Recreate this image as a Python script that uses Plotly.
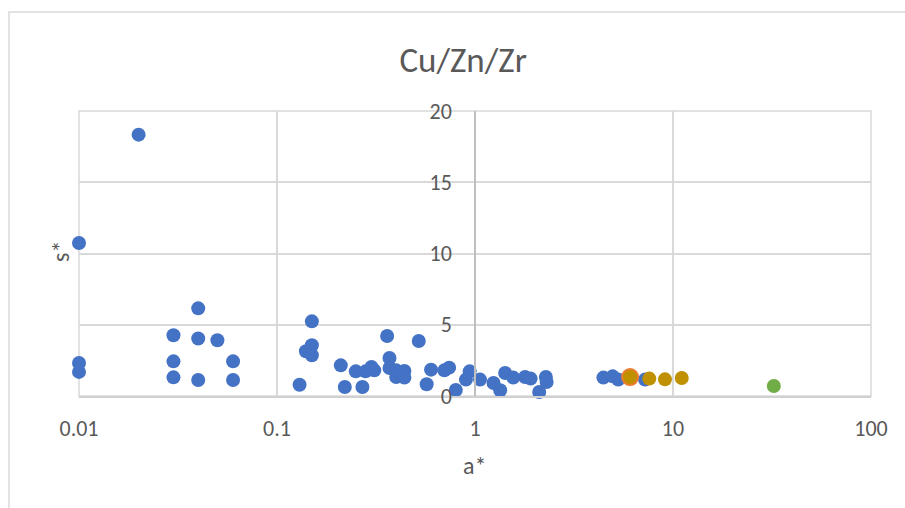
import plotly.graph_objects as go

# Cu/Zn/Zr data: a* (log scale) vs s*
blue_a = [0.02, 0.01, 0.01, 0.01, 0.04, 0.03, 0.04, 0.05, 0.03, 0.03, 0.04, 0.06, 0.06,
          0.13, 0.15, 0.14, 0.15, 0.15, 0.21, 0.22, 0.25, 0.27, 0.28, 0.30, 0.31,
          0.36, 0.37, 0.37, 0.40, 0.40, 0.44, 0.44, 0.52, 0.57, 0.60, 0.70, 0.74,
          0.80, 0.90, 0.94, 1.06, 1.24, 1.34, 1.42, 1.56, 1.79, 1.91, 2.11, 2.28,
          2.30, 4.45, 4.96, 5.29, 7.22]
blue_s = [18.34, 10.74, 2.32, 1.69, 6.15, 4.26, 4.03, 3.91, 2.43, 1.31, 1.12, 2.43, 1.12,
          0.79, 5.24, 3.14, 3.56, 2.86, 2.15, 0.63, 1.73, 0.63, 1.73, 2.04, 1.80,
          4.21, 2.67, 1.97, 1.33, 1.80, 1.75, 1.29, 3.86, 0.82, 1.85, 1.80, 1.99,
          0.42, 1.15, 1.73, 1.15, 0.91, 0.40, 1.61, 1.29, 1.33, 1.22, 0.28, 1.33,
          0.98, 1.29, 1.38, 1.15, 1.15]

orange_a = [6.07]
orange_s = [1.33]

gold_a = [6.07, 7.59, 9.11, 11.07]
gold_s = [1.33, 1.22, 1.17, 1.26]

green_a = [32.3]
green_s = [0.70]

x_ticks = [0.01, 0.1, 1, 10, 100]
x_tick_labels = ["0.01", "0.1", "1", "10", "100"]
y_ticks = [0, 5, 10, 15, 20]

FONT = "Carlito, Calibri, Lato, sans-serif"
TXT = "#595959"
GRID = "#D9D9D9"

fig = go.Figure()
fig.add_trace(go.Scatter(x=blue_a, y=blue_s, mode="markers", cliponaxis=False,
                         marker=dict(size=14, color="#4472C4"), showlegend=False))
fig.add_trace(go.Scatter(x=orange_a, y=orange_s, mode="markers", cliponaxis=False,
                         marker=dict(size=14, color="#ED7D31",
                                     line=dict(color="#ED7D31", width=4)),
                         showlegend=False))
fig.add_trace(go.Scatter(x=gold_a, y=gold_s, mode="markers", cliponaxis=False,
                         marker=dict(size=14, color="#BF9000"), showlegend=False))
fig.add_trace(go.Scatter(x=green_a, y=green_s, mode="markers", cliponaxis=False,
                         marker=dict(size=14, color="#70AD47"), showlegend=False))

fig.update_layout(
    width=905, height=508,
    margin=dict(l=79, r=34, t=111, b=112),
    paper_bgcolor="white", plot_bgcolor="white",
    font=dict(family=FONT, color=TXT, size=22),
    title=dict(text="Cu/Zn/Zr", x=0.485, xref="paper", xanchor="center",
               y=1 - 60 / 508, yanchor="middle",
               font=dict(family=FONT, size=35, color=TXT)),
    xaxis=dict(type="log", range=[-2, 2], tickvals=x_ticks, ticktext=x_tick_labels,
               showgrid=True, gridcolor=GRID, gridwidth=1.5,
               showline=True, linecolor="#D0D0D0", linewidth=1.5,
               ticks="", ticklabelstandoff=12, zeroline=False,
               tickfont=dict(size=22, color=TXT)),
    yaxis=dict(range=[0, 20], tickvals=y_ticks, anchor="free", position=0.5,
               showgrid=True, gridcolor=GRID, gridwidth=1.5,
               showline=True, linecolor="#BFBFBF", linewidth=1.5,
               ticks="", ticklabelstandoff=18, zeroline=False,
               tickfont=dict(size=22, color=TXT)),
    shapes=[
        # plot-area frame
        dict(type="rect", xref="paper", yref="paper", x0=0, x1=1, y0=0, y1=1,
             line=dict(color=GRID, width=1.5), layer="below"),
        # chart-area border
        dict(type="rect", xref="paper", yref="paper",
             x0=(9 - 79) / 792, x1=(915 - 79) / 792,
             y0=(396 - 520) / 285, y1=1 + (111 - 12) / 285,
             line=dict(color=GRID, width=1.5), layer="below"),
    ],
    annotations=[
        dict(text="a*", xref="paper", yref="paper", x=(474 - 79) / 792,
             y=-(466 - 396) / 285, xanchor="center", yanchor="middle",
             showarrow=False, font=dict(size=24, color=TXT)),
        dict(text="s*", xref="paper", yref="paper", x=-(79 - 60) / 792,
             y=(396 - 252) / 285, xanchor="center", yanchor="middle",
             textangle=-90, showarrow=False, font=dict(size=24, color=TXT)),
    ],
)

fig.write_html("out.html")
